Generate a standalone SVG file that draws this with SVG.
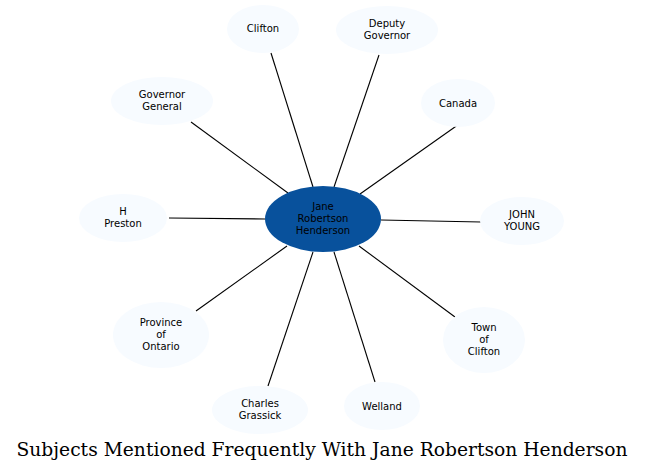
<svg xmlns="http://www.w3.org/2000/svg" width="645" height="471" viewBox="0 0 645 471">
<style>
.n ellipse{fill:#f7fbff;stroke:none}
.c ellipse{fill:#08519c;stroke:none}
text{font-family:"DejaVu Sans",sans-serif;font-size:10px;text-anchor:middle;fill:#000}
.t{font-family:"DejaVu Serif",serif;font-size:18.7px}
#edges line{stroke:#000;stroke-width:1.1}
</style>
<rect width="645" height="471" fill="#fff"/>
<g id="edges">
<line x1="271" y1="53" x2="313" y2="187"/>
<line x1="379" y1="55" x2="334" y2="187"/>
<line x1="191" y1="122" x2="288" y2="193"/>
<line x1="462" y1="122" x2="360" y2="194"/>
<line x1="169" y1="218" x2="265" y2="219"/>
<line x1="381" y1="220" x2="481" y2="222"/>
<line x1="196" y1="311" x2="287" y2="246"/>
<line x1="455" y1="317" x2="359" y2="246"/>
<line x1="268" y1="386" x2="313" y2="252"/>
<line x1="375" y1="382" x2="334" y2="252"/>
</g>
<g id="center" class="c"><ellipse cx="323" cy="219" rx="58" ry="33"/><text x="323" y="210">Jane</text><text x="323" y="222">Robertson</text><text x="323" y="234">Henderson</text></g>
<g id="clifton" class="n"><ellipse cx="263" cy="29" rx="36" ry="24"/><text x="263" y="32">Clifton</text></g>
<g id="deputy" class="n"><ellipse cx="387" cy="30" rx="51" ry="24"/><text x="387" y="27">Deputy</text><text x="387" y="39">Governor</text></g>
<g id="govgen" class="n"><ellipse cx="162" cy="101" rx="51" ry="24"/><text x="162" y="98">Governor</text><text x="162" y="110">General</text></g>
<g id="canada" class="n"><ellipse cx="458" cy="103" rx="37" ry="24"/><text x="458" y="107">Canada</text></g>
<g id="hpreston" class="n"><ellipse cx="123" cy="218" rx="44" ry="24"/><text x="123" y="215">H</text><text x="123" y="227">Preston</text></g>
<g id="johnyoung" class="n"><ellipse cx="522" cy="221" rx="42" ry="24"/><text x="522" y="218">JOHN</text><text x="522" y="230">YOUNG</text></g>
<g id="province" class="n"><ellipse cx="161" cy="335" rx="48" ry="33"/><text x="161" y="326">Province</text><text x="161" y="338">of</text><text x="161" y="350">Ontario</text></g>
<g id="town" class="n"><ellipse cx="484" cy="340" rx="41" ry="33"/><text x="484" y="331">Town</text><text x="484" y="343">of</text><text x="484" y="355">Clifton</text></g>
<g id="charles" class="n"><ellipse cx="260" cy="410" rx="48" ry="24"/><text x="260" y="407">Charles</text><text x="260" y="419">Grassick</text></g>
<g id="welland" class="n"><ellipse cx="382" cy="406" rx="38" ry="24"/><text x="382" y="410">Welland</text></g>
<text class="t" x="322" y="456">Subjects Mentioned Frequently With Jane Robertson Henderson</text>
</svg>
